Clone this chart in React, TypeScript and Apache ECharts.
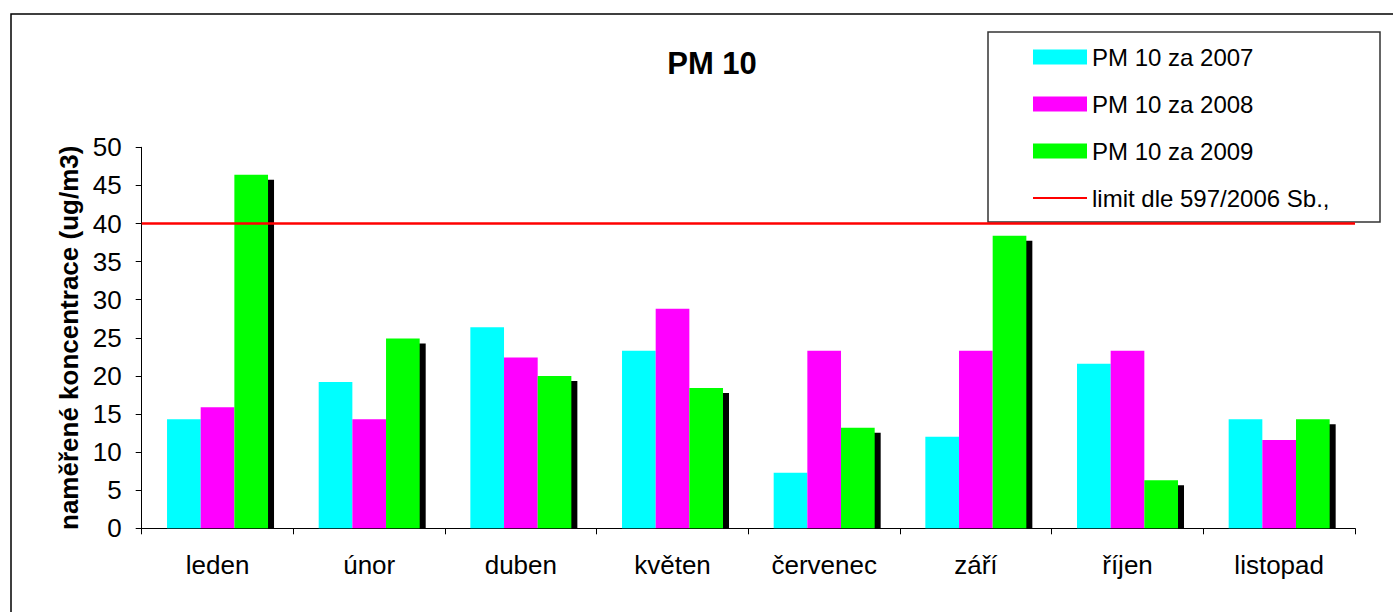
import React, { useEffect, useRef } from "react";
import * as echarts from "echarts";

const CATEGORIES = ["leden", "únor", "duben", "květen", "červenec", "září", "říjen", "listopad"];
const PM2007 = [14.3, 19.2, 26.4, 23.3, 7.3, 12.0, 21.6, 14.3];
const PM2008 = [15.9, 14.3, 22.4, 28.8, 23.3, 23.3, 23.3, 11.6];
const PM2009 = [46.4, 24.9, 20.0, 18.4, 13.2, 38.4, 6.3, 14.3];
const LIMIT = [40];
const SERIES_NAMES = ["PM 10 za 2007", "PM 10 za 2008", "PM 10 za 2009", "limit dle 597/2006 Sb.,"];

const GAP = 0.334;
const SHADOW_DX = 6;
const SHADOW_DY = 5;
const FONT = "'Liberation Sans', Arial, sans-serif";
const LINE_ICON = "path://M0,0 M54,15 M0,6.6 L54,6.6 L54,8.6 L0,8.6 Z";

export default function App() {
  const ref = useRef<HTMLDivElement>(null);
  useEffect(() => {
    if (!ref.current) return;
    const chart = echarts.init(ref.current, null, { renderer: "svg" });
    const option: any = {
      animation: false,
      backgroundColor: "#fff",
      textStyle: { fontFamily: FONT, color: "#000" },
      title: {
        text: "PM 10",
        left: 707,
        top: 43,
        textAlign: "center",
        textStyle: { fontFamily: FONT, fontSize: 31, fontWeight: "bold", color: "#000" },
      },
      graphic: [
        {
          type: "rect",
          z: 0,
          shape: { x: 11, y: 14, width: 1400, height: 700 },
          style: { fill: "none", stroke: "#000", lineWidth: 1.5 },
        },
        {
          type: "rect",
          z: 1,
          shape: { x: 988, y: 32, width: 392, height: 190 },
          style: { fill: "#fff", stroke: "#333", lineWidth: 1.5 },
        },
      ],
      legend: {
        orient: "vertical",
        left: 1033,
        top: 45,
        padding: 0,
        itemWidth: 54,
        itemHeight: 15,
        itemGap: 23,
        z: 10,
        textStyle: { fontFamily: FONT, fontSize: 24, lineHeight: 24, color: "#000" },
        data: [
          { name: SERIES_NAMES[0], icon: "rect" },
          { name: SERIES_NAMES[1], icon: "rect" },
          { name: SERIES_NAMES[2], icon: "rect" },
          { name: SERIES_NAMES[3], icon: LINE_ICON },
        ],
        selectedMode: false,
      },
      grid: { left: 141.7, right: 38, top: 147.3, bottom: 83.7, containLabel: false },
      xAxis: {
        type: "category",
        data: CATEGORIES,
        boundaryGap: true,
        axisLine: { lineStyle: { color: "#000", width: 1 } },
        axisTick: { show: true, interval: 0, length: 6, lineStyle: { color: "#000" } },
        axisLabel: { interval: 0, margin: 24, fontSize: 26, fontFamily: FONT, color: "#000" },
        splitLine: { show: false },
      },
      yAxis: {
        type: "value",
        min: 0,
        max: 50,
        interval: 5,
        name: "naměřené koncentrace (ug/m3)",
        nameLocation: "middle",
        nameRotate: 90,
        nameGap: 57,
        nameTextStyle: { fontFamily: FONT, fontSize: 26, fontWeight: "bold", color: "#000" },
        axisLine: { show: true, lineStyle: { color: "#000", width: 1 } },
        axisTick: { show: true, length: 6, lineStyle: { color: "#000" } },
        axisLabel: { margin: 20, fontSize: 26, fontFamily: FONT, color: "#000" },
        splitLine: { show: false },
      },
      series: [
        {
          type: "custom",
          name: "stín",
          z: 1,
          silent: true,
          data: PM2009.map((v, i) => [i, v]),
          encode: { x: 0, y: 1 },
          renderItem: (params: any, api: any) => {
            const idx = api.value(0);
            const val = api.value(1);
            const top = api.coord([idx, val]);
            const base = api.coord([idx, 0]);
            const cw = api.size([1, 0])[0];
            const bw = (cw * (1 - GAP)) / 3;
            const left = top[0] + bw / 2 + SHADOW_DX;
            const h = Math.max(0, base[1] - top[1] - SHADOW_DY);
            return {
              type: "rect",
              shape: { x: left, y: top[1] + SHADOW_DY, width: bw, height: h },
              style: { fill: "#000" },
            };
          },
        },
        {
          type: "bar",
          name: SERIES_NAMES[0],
          data: PM2007,
          z: 2,
          barGap: "0%",
          barCategoryGap: GAP * 100 + "%",
          itemStyle: { color: "#00FFFF" },
        },
        {
          type: "bar",
          name: SERIES_NAMES[1],
          data: PM2008,
          z: 2,
          barGap: "0%",
          barCategoryGap: GAP * 100 + "%",
          itemStyle: { color: "#FF00FF" },
        },
        {
          type: "bar",
          name: SERIES_NAMES[2],
          data: PM2009,
          z: 2,
          barGap: "0%",
          barCategoryGap: GAP * 100 + "%",
          itemStyle: { color: "#00FF00" },
        },
        {
          type: "line",
          name: SERIES_NAMES[3],
          data: [],
          symbol: "none",
          z: 5,
          itemStyle: { color: "#FF0000" },
          lineStyle: { color: "#FF0000", width: 2.5 },
          markLine: {
            silent: true,
            symbol: ["none", "none"],
            label: { show: false },
            lineStyle: { color: "#FF0000", width: 2.5, type: "solid" },
            data: [{ yAxis: LIMIT[0] }],
          },
        },
      ],
    };
    chart.setOption(option);
    return () => chart.dispose();
  }, []);
  return (
    <div
      ref={ref}
      style={{ position: "absolute", left: 0, top: 0, width: 1393, height: 612 }}
    />
  );
}
